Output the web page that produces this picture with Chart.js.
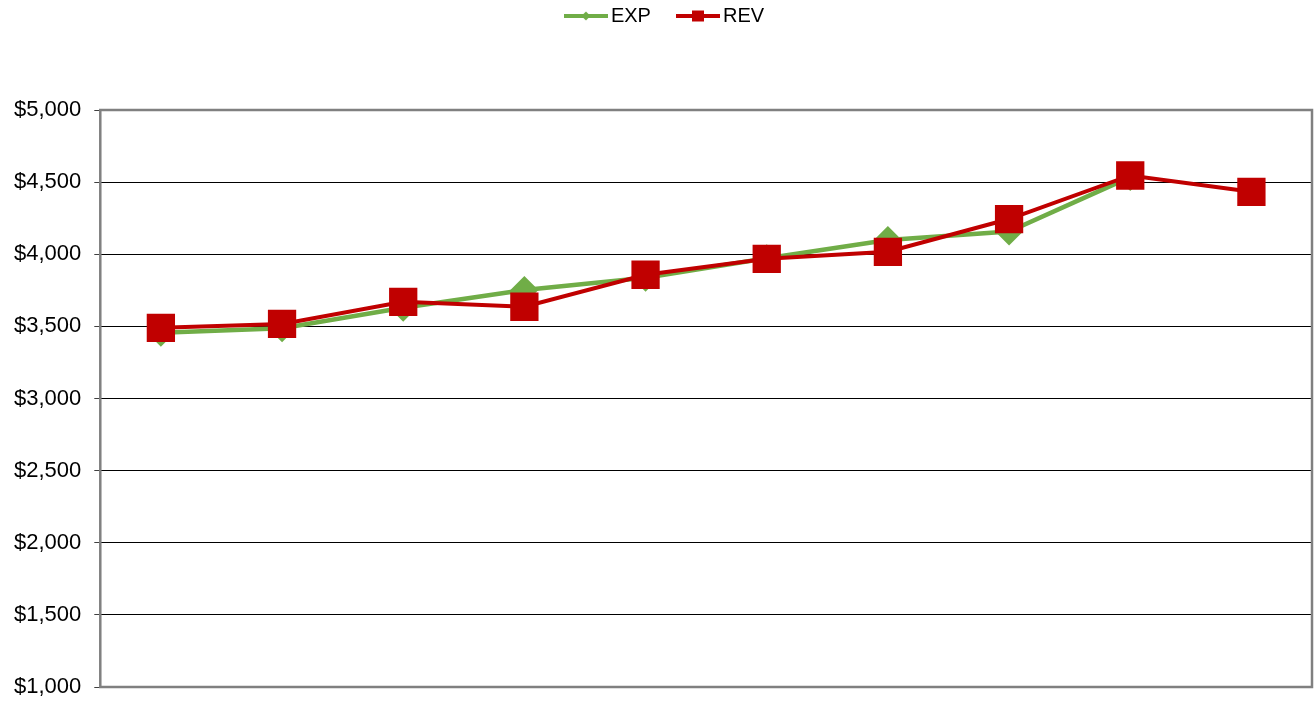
<!DOCTYPE html>
<html>
<head>
<meta charset="utf-8">
<script src="https://cdn.jsdelivr.net/npm/chart.js@4/dist/chart.umd.min.js"></script>
<style>
  html, body { margin: 0; padding: 0; background: #fff; }
  #wrap { width: 1316px; height: 703px; }
</style>
</head>
<body>
<div id="wrap"><canvas id="chart"></canvas></div>
<script>
// data
const periods = ['1', '2', '3', '4', '5', '6', '7', '8', '9', '10'];
const expValues = [3456, 3487, 3629, 3752, 3837, 3972, 4099, 4158, 4535, null];
const revValues = [3490, 3517, 3670, 3636, 3858, 3968, 4017, 4244, 4546, 4433];
const yTicks = [1000, 1500, 2000, 2500, 3000, 3500, 4000, 4500, 5000];

const GREEN = '#70AD47';
const RED = '#C00000';

// little legend swatch: line with the marker in the middle
function swatch(color, style) {
  const c = document.createElement('canvas');
  c.width = 44; c.height = 14;
  const g = c.getContext('2d');
  g.strokeStyle = color; g.fillStyle = color; g.lineWidth = 4;
  g.beginPath(); g.moveTo(0, 7); g.lineTo(44, 7); g.stroke();
  g.beginPath();
  if (style === 'diamond') {
    g.moveTo(22, 2.5); g.lineTo(26.5, 7); g.lineTo(22, 11.5); g.lineTo(17.5, 7);
  } else {
    g.rect(16, 1.5, 12, 11);
  }
  g.fill();
  return c;
}

// fixed legend height so the plot starts where the reference does,
// and nudge the legend a bit right
const legendGap = {
  id: 'legendGap',
  beforeInit(chart) {
    const fit = chart.legend.fit;
    chart.legend.fit = function () {
      fit.bind(this)();
      this.height = 136;
    };
  },
  afterLayout(chart) {
    chart.legend.left += 11;
    chart.legend.right += 11;
  }
};

// grey frame round the plot area
const frame = {
  id: 'frame',
  beforeDatasetsDraw(chart) {
    const a = chart.chartArea, ctx = chart.ctx;
    ctx.save();
    ctx.strokeStyle = '#808080';
    ctx.lineWidth = 2.5;
    ctx.strokeRect(a.left, a.top, a.right - a.left, a.bottom - a.top);
    ctx.restore();
  }
};

new Chart(document.getElementById('chart'), {
  type: 'line',
  data: {
    labels: periods,
    datasets: [
      {
        label: 'EXP',
        data: expValues,
        borderColor: GREEN,
        backgroundColor: GREEN,
        borderWidth: 4.5,
        pointStyle: 'rectRot',
        pointRadius: 14,
        pointBorderWidth: 0,
        tension: 0,
        order: 1
      },
      {
        label: 'REV',
        data: revValues,
        borderColor: RED,
        backgroundColor: RED,
        borderWidth: 4,
        pointStyle: 'rect',
        pointRadius: 20,
        pointBorderWidth: 0,
        tension: 0,
        order: 0
      }
    ]
  },
  options: {
    responsive: true,
    maintainAspectRatio: false,
    animation: false,
    layout: { autoPadding: false, padding: { left: 1, right: 4, top: -26, bottom: 16 } },
    plugins: {
      tooltip: { enabled: false },
      legend: {
        position: 'top',
        labels: {
          font: { family: 'Liberation Sans, Arial', size: 20 },
          color: '#000',
          usePointStyle: true,
          pointStyleWidth: 30,
          padding: 32,
          generateLabels() {
            return [
              { text: 'EXP', pointStyle: swatch(GREEN, 'diamond'), datasetIndex: 0, lineWidth: 0, fontColor: '#000' },
              { text: 'REV', pointStyle: swatch(RED, 'square'), datasetIndex: 1, lineWidth: 0, fontColor: '#000' }
            ];
          }
        }
      }
    },
    scales: {
      x: {
        display: false,
        offset: true
      },
      y: {
        min: 1000,
        max: 5000,
        afterBuildTicks(axis) {
          axis.ticks = yTicks.map(v => ({ value: v }));
        },
        afterFit(axis) {
          axis.paddingBottom = 0;
        },
        ticks: {
          color: '#000',
          padding: 13,
          font: { family: 'Liberation Sans, Arial', size: 22 },
          callback: v => '$' + v.toLocaleString('en-US')
        },
        grid: { color: '#000', lineWidth: 1, tickLength: 6, tickColor: '#404040' },
        border: { display: false }
      }
    }
  },
  plugins: [legendGap, frame]
});
</script>
</body>
</html>
